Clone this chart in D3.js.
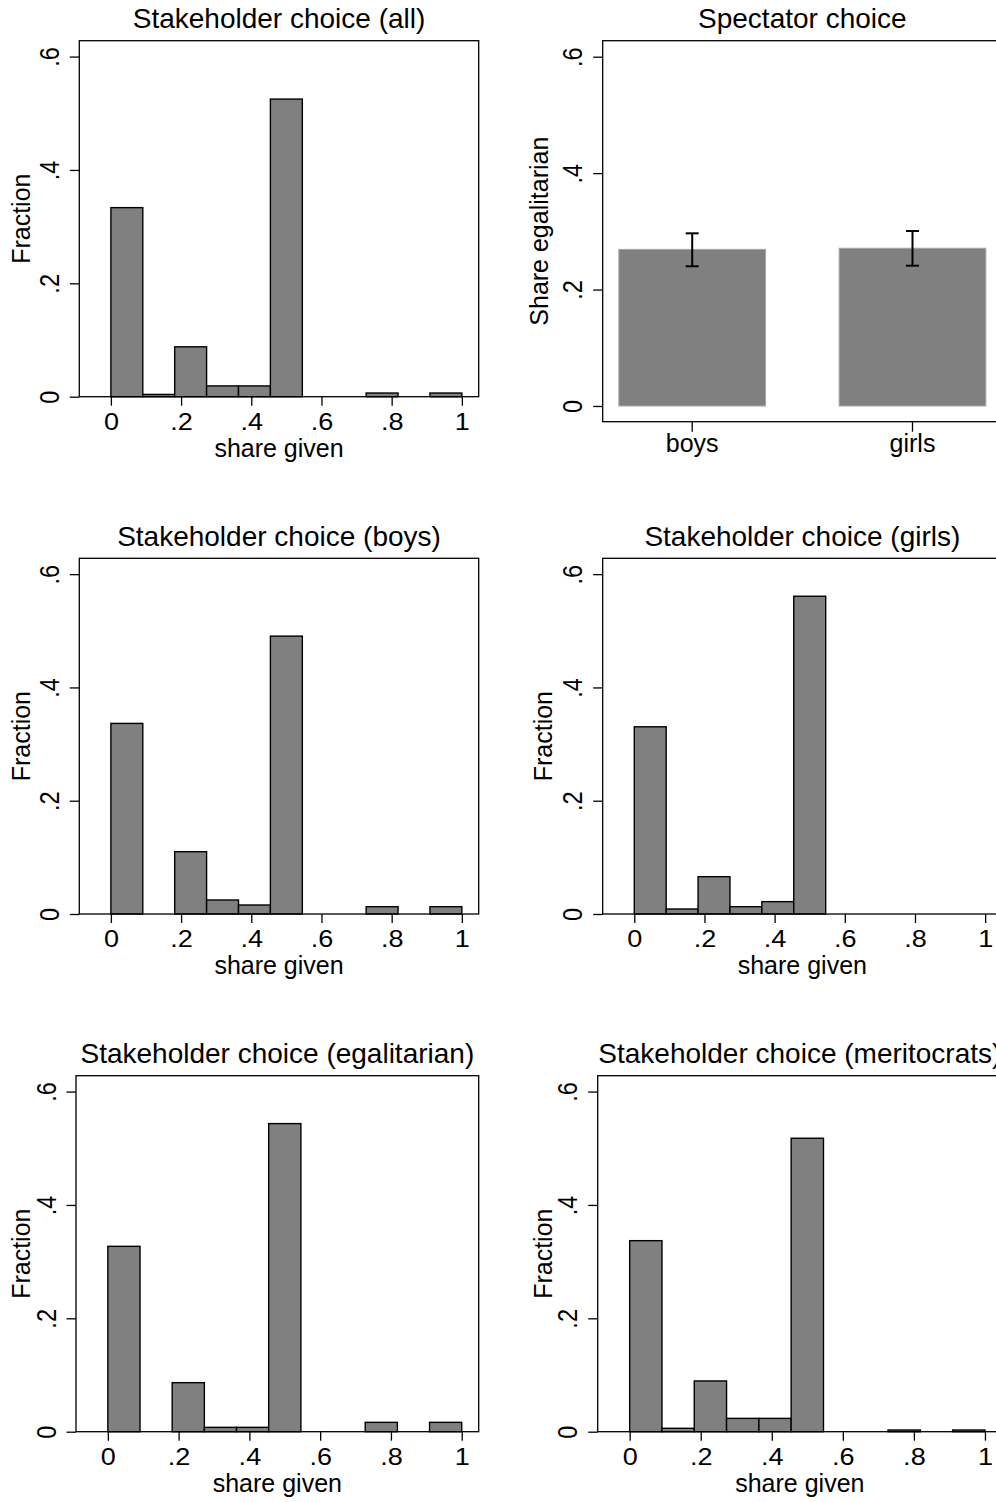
<!DOCTYPE html>
<html>
<head>
<meta charset="utf-8">
<script src="https://cdn.jsdelivr.net/npm/d3@7"></script>
<style>
body{margin:0;background:#fff;overflow:hidden;}
svg{display:block;font-family:"Liberation Sans",Arial,sans-serif;}
</style>
</head>
<body>
<div class="visHolder"></div>
<script>
const w=996,h=1502;

// histogram bins of "share given" (11 bins on [0,1])
const binEdges=[0,0.0909,0.1818,0.2727,0.3636,0.4545,0.5455,0.6364,0.7273,0.8182,0.9091,1];
const xTicks=[0,0.2,0.4,0.6,0.8,1];
const xTickLabels=["0",".2",".4",".6",".8","1"];
const yTicks=[0,0.2,0.4,0.6];
const yTickLabels=["0",".2",".4",".6"];

// fraction in each bin
const fracAll=[0.3335,0.004,0.088,0.019,0.019,0.525,0,0,0.0065,0,0.0065];
const fracBoys=[0.3365,0,0.110,0.0247,0.0159,0.4906,0,0,0.0129,0,0.0129];
const fracGirls=[0.3305,0.0088,0.0659,0.0129,0.0218,0.561,0,0,0,0,0];
const fracEgal=[0.327,0,0.0865,0.0077,0.0077,0.5435,0,0,0.0165,0,0.0165];
const fracMerit=[0.337,0.006,0.0895,0.0235,0.0235,0.5177,0,0,0.003,0,0.003];

// spectator choice
const groups=["boys","girls"];
const shareEgal=[0.269,0.271];
const ciLow=[0.240,0.241];
const ciHigh=[0.2966,0.3006];

const stretch=1.15; // tick labels in the original are a little wide

const svg=d3.select(".visHolder")
.append("svg")
.attr("width",w)
.attr("height",h);

svg.append("rect").attr("width",w).attr("height",h).attr("fill","#fff");

function boxAndTitle(b,title){
  svg.append("rect")
  .attr("x",b.x0).attr("y",b.y0)
  .attr("width",b.x1-b.x0).attr("height",b.y1-b.y0)
  .attr("fill","none").attr("stroke","#000").attr("stroke-width",1.3);
  svg.append("text")
  .attr("x",(b.x0+b.x1)/2).attr("y",b.y0-12.5)
  .attr("text-anchor","middle").attr("font-size",28)
  .text(title);
}

function yAxisFor(yScale,b,title){
  const yAxis=d3.axisLeft(yScale).tickValues(yTicks).tickFormat((d,i)=>yTickLabels[i]).tickSize(9.5);
  const ya=svg.append("g")
  .attr("transform","translate("+b.x0+",0)")
  .call(yAxis)
  .attr("font-size",null).attr("font-family",null);
  ya.select(".domain").remove();
  ya.selectAll("line").attr("stroke","#000").attr("stroke-width",1.3);
  ya.selectAll("text")
  .attr("x",0).attr("y",-20.5/stretch).attr("dy",null)
  .attr("text-anchor","middle")
  .attr("transform","scale("+stretch+",1) rotate(-90)")
  .attr("font-size",23.5).attr("fill","#000");

  svg.append("text")
  .attr("transform","translate("+b.ytx+","+((b.y0+b.y1)/2)+") rotate(-90)")
  .attr("text-anchor","middle").attr("font-size",25)
  .text(title);
}

function histogram(values,title,b){
  const xScale=d3.scaleLinear().domain([-0.09,1.048]).range([b.x0,b.x1]);
  const yScale=d3.scaleLinear().domain([0,0.628]).range([b.y1,b.y0]);

  const bins=values.map((v,i)=>({v:v,lo:binEdges[i],hi:binEdges[i+1]})).filter(d=>d.v>0);
  svg.append("g").selectAll("rect")
  .data(bins)
  .enter()
  .append("rect")
  .attr("x",d=>xScale(d.lo))
  .attr("width",d=>xScale(d.hi)-xScale(d.lo))
  .attr("y",d=>yScale(d.v))
  .attr("height",d=>yScale(0)-yScale(d.v))
  .attr("fill","#808080")
  .attr("stroke","#000")
  .attr("stroke-width",1.4);

  boxAndTitle(b,title);
  yAxisFor(yScale,b,"Fraction");

  const xAxis=d3.axisBottom(xScale).tickValues(xTicks).tickFormat((d,i)=>xTickLabels[i]).tickSize(9);
  const xa=svg.append("g")
  .attr("transform","translate(0,"+b.y1+")")
  .call(xAxis)
  .attr("font-size",null).attr("font-family",null);
  xa.select(".domain").remove();
  xa.selectAll("line").attr("stroke","#000").attr("stroke-width",1.3);
  xa.selectAll("text")
  .attr("y",33.5).attr("dy",null)
  .attr("transform","scale("+stretch+",1)")
  .attr("font-size",23.5).attr("fill","#000");

  svg.append("text")
  .attr("x",(b.x0+b.x1)/2).attr("y",b.y1+60)
  .attr("text-anchor","middle").attr("font-size",25)
  .text("share given");
}

function spectator(b){
  const xScale=d3.scaleBand().domain(groups).range([b.x0,b.x1]).paddingInner(0.334).paddingOuter(0.0733);
  const yScale=d3.scaleLinear().domain([-0.027,0.6275]).range([b.y1,b.y0]);

  svg.append("g").selectAll("rect")
  .data(groups)
  .enter()
  .append("rect")
  .attr("x",d=>xScale(d))
  .attr("width",xScale.bandwidth())
  .attr("y",(d,i)=>yScale(shareEgal[i]))
  .attr("height",(d,i)=>yScale(0)-yScale(shareEgal[i]))
  .attr("fill","#808080")
  .attr("stroke","#a6a6a6")
  .attr("stroke-width",1);

  const eb=svg.append("g").selectAll("g")
  .data(groups)
  .enter()
  .append("g")
  .attr("stroke","#000")
  .attr("stroke-width",2);
  eb.append("line")
  .attr("x1",d=>xScale(d)+xScale.bandwidth()/2).attr("x2",d=>xScale(d)+xScale.bandwidth()/2)
  .attr("y1",(d,i)=>yScale(ciLow[i])).attr("y2",(d,i)=>yScale(ciHigh[i]));
  eb.append("line")
  .attr("x1",d=>xScale(d)+xScale.bandwidth()/2-6.5).attr("x2",d=>xScale(d)+xScale.bandwidth()/2+6.5)
  .attr("y1",(d,i)=>yScale(ciLow[i])).attr("y2",(d,i)=>yScale(ciLow[i]));
  eb.append("line")
  .attr("x1",d=>xScale(d)+xScale.bandwidth()/2-6.5).attr("x2",d=>xScale(d)+xScale.bandwidth()/2+6.5)
  .attr("y1",(d,i)=>yScale(ciHigh[i])).attr("y2",(d,i)=>yScale(ciHigh[i]));

  boxAndTitle(b,"Spectator choice");
  yAxisFor(yScale,b,"Share egalitarian");

  const xa=svg.append("g")
  .attr("transform","translate(0,"+b.y1+")")
  .call(d3.axisBottom(xScale).tickSize(10))
  .attr("font-size",null).attr("font-family",null);
  xa.select(".domain").remove();
  xa.selectAll("line").attr("stroke","#000").attr("stroke-width",1.3);
  xa.selectAll("text").attr("y",30.5).attr("dy",null).attr("font-size",25).attr("fill","#000");
}

// panel frames (pixel layout)
const frameTL={x0:79.3,x1:478.7,y0:40.7,y1:396.7,ytx:30};
const frameTR={x0:602.7,x1:1002,y0:40.7,y1:421.7,ytx:548};
const frameML={x0:79.3,x1:478.7,y0:558.3,y1:914,ytx:30};
const frameMR={x0:602.7,x1:1002,y0:558.3,y1:914,ytx:551.7};
const frameBL={x0:76,x1:478.7,y0:1075.7,y1:1431.7,ytx:30};
const frameBR={x0:597.7,x1:1002,y0:1075.7,y1:1431.7,ytx:551.7};

histogram(fracAll,"Stakeholder choice (all)",frameTL);
spectator(frameTR);
histogram(fracBoys,"Stakeholder choice (boys)",frameML);
histogram(fracGirls,"Stakeholder choice (girls)",frameMR);
histogram(fracEgal,"Stakeholder choice (egalitarian)",frameBL);
histogram(fracMerit,"Stakeholder choice (meritocrats)",frameBR);
</script>
</body>
</html>
